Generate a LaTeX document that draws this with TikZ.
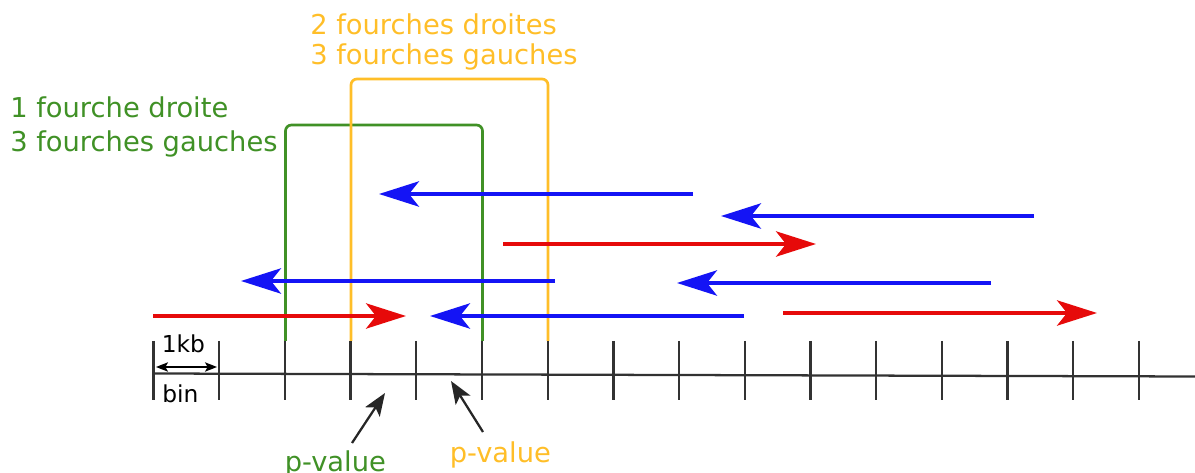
\documentclass[tikz,border=0pt]{standalone}
\usepackage{fontspec}
\setmainfont{DejaVu Sans}
\usetikzlibrary{arrows.meta}
\definecolor{cgreen}{RGB}{64,145,38}
\definecolor{cyellow}{RGB}{255,190,40}
\definecolor{cblue}{RGB}{20,20,245}
\definecolor{cred}{RGB}{230,10,10}
\definecolor{caxis}{RGB}{50,50,50}
\tikzset{
  readarrow/.style={line width=2.5pt, -{Stealth[length=30pt,width=19pt,inset=7.5pt]}},
  fwd/.style={readarrow, draw=cred, fill=cred},
  rev/.style={readarrow, draw=cblue, fill=cblue},
  fork/.style={line width=2pt, rounded corners=4.5pt},
  tickmark/.style={line width=1.7pt, draw=caxis},
  bigtext/.style={inner sep=0pt, anchor=base west, font=\fontsize{20.5}{24}\selectfont},
  smalltext/.style={inner sep=0pt, anchor=base west, font=\fontsize{17.5}{20}\selectfont},
  pointer/.style={line width=1.7pt, draw=black!85, -{Stealth[length=17pt,width=13pt,inset=4pt]}},
}
\begin{document}
\begin{tikzpicture}[x=0.75pt,y=-0.75pt]
\useasboundingbox (0,0) rectangle (1195,473);
% axis
\draw[line width=1.7pt, draw=caxis] (153,373.5) -- (1195,376.5);
\foreach \i in {0,...,15}{
  \draw[tickmark] ({153.5+65.7*\i},341) -- ({153.5+65.7*\i},400);
}
% fork boxes
\draw[fork, draw=cgreen] (285.5,341) -- (285.5,125) -- (482.5,125) -- (482.5,341);
\draw[fork, draw=cyellow] (351,341) -- (351,79) -- (548,79) -- (548,341);
% reads
\coordinate (b1t) at (693,194); \coordinate (b1h) at (379,194);
\coordinate (b2t) at (1034,216); \coordinate (b2h) at (721,216);
\coordinate (r1t) at (503,244); \coordinate (r1h) at (816,244);
\coordinate (b3t) at (555,281); \coordinate (b3h) at (241,281);
\coordinate (b4t) at (991,283); \coordinate (b4h) at (677,283);
\coordinate (r2t) at (153,316); \coordinate (r2h) at (406,316);
\coordinate (b5t) at (744,316); \coordinate (b5h) at (430,316);
\coordinate (r3t) at (783,313); \coordinate (r3h) at (1097,313);
\draw[rev] (b1t) -- (b1h);
\draw[rev] (b2t) -- (b2h);
\draw[fwd] (r1t) -- (r1h);
\draw[rev] (b3t) -- (b3h);
\draw[rev] (b4t) -- (b4h);
\draw[fwd] (r2t) -- (r2h);
\draw[rev] (b5t) -- (b5h);
\draw[fwd] (r3t) -- (r3h);
% labels
\node[bigtext, text=cgreen] (g1) at (10,118) {1 fourche droite};
\node[bigtext, text=cgreen] (g2) at (10,152) {3 fourches gauches};
\node[bigtext, text=cyellow] (y1) at (310,35) {2 fourches droites};
\node[bigtext, text=cyellow] (y2) at (310,65) {3 fourches gauches};
% bin
\node[smalltext] (kb) at (161.5,353) {1kb};
\node[smalltext] (bin) at (162,403) {bin};
\coordinate (binL) at (156,367); \coordinate (binR) at (217,367);
\draw[line width=1.2pt, {Stealth[length=9pt,width=7pt,inset=2pt]}-{Stealth[length=9pt,width=7pt,inset=2pt]}] (binL) -- (binR);
% p-values
\node[bigtext, text=cgreen] (pg) at (284.5,471) {p-value};
\node[bigtext, text=cyellow] (py) at (449.5,462.5) {p-value};
\coordinate (pgt) at (352,443); \coordinate (pgh) at (385,393);
\coordinate (pyt) at (483,432); \coordinate (pyh) at (451,381);
\draw[pointer] (pgt) -- (pgh);
\draw[pointer] (pyt) -- (pyh);
\end{tikzpicture}
\end{document}
